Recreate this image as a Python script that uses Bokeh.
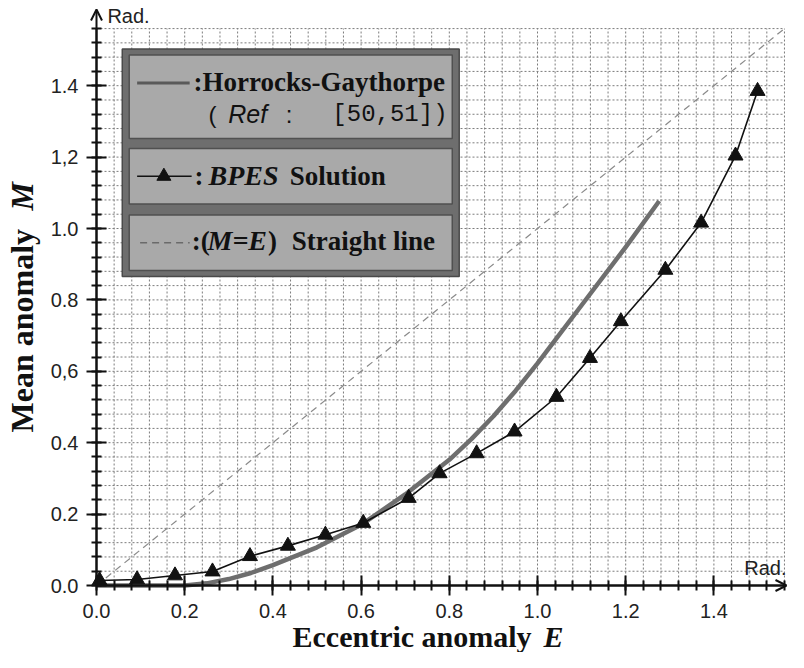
import numpy as np
from bokeh.plotting import figure
from bokeh.models import FixedTicker, Label, Arrow, OpenHead
from bokeh.embed import file_html
from bokeh.resources import INLINE

# ---------------- data ----------------
x_ticks = [0.0, 0.2, 0.4, 0.6, 0.8, 1.0, 1.2, 1.4]
x_tick_labels = ["0.0", "0.2", "0.4", "0.6", "0.8", "1.0", "1.2", "1.4"]
y_ticks = [0.0, 0.2, 0.4, 0.6, 0.8, 1.0, 1.2, 1.4]
y_tick_labels = ["0.0", "0.2", "0.4", "0,6", "0.8", "1.0", "1,2", "1.4"]

# Horrocks-Gaythorpe curve
hg_E = [0.0, 0.20, 0.25, 0.30, 0.35, 0.40, 0.50, 0.60, 0.70, 0.80, 0.85, 0.90, 0.95, 1.00, 1.10, 1.20, 1.276]
hg_M = [0.0, 0.0, 0.006, 0.018, 0.035, 0.057, 0.107, 0.170, 0.255, 0.352, 0.410, 0.474, 0.545, 0.622, 0.785, 0.948, 1.077]

# BPES solution (triangles)
bpes_E = [0.007, 0.092, 0.178, 0.263, 0.348, 0.434, 0.519, 0.605, 0.708, 0.778, 0.862, 0.948,
          1.043, 1.119, 1.189, 1.290, 1.371, 1.449, 1.499]
bpes_M = [0.014, 0.017, 0.028, 0.039, 0.082, 0.111, 0.142, 0.175, 0.245, 0.314, 0.370, 0.431,
          0.528, 0.637, 0.740, 0.884, 1.016, 1.204, 1.385]

# straight line M = E
diag_E = [0.0, 1.56]
diag_M = [0.0, 1.56]

# ---------------- layout ----------------
W, H = 788, 652
X0, Y0 = 96, 585             # figure pixel of the origin
PXX, PXY = 441.0, 357.0      # pixels per unit
GRID_MAX = 1.56
BASE_SHIFT = 0.3             # em; compensates where the label baseline is drawn


def fx(px):  # figure pixel -> data x
    return (px - X0) / PXX


def fy(py):  # figure pixel -> data y
    return (Y0 - py) / PXY


def rx(px):  # reference-image pixel -> data x
    return (px - 99) / 445.0


def ry(py):  # reference-image pixel -> data y
    return (592 - py) / 359.4


p = figure(width=W, height=H, x_range=(fx(0), fx(W)), y_range=(fy(H), fy(0)),
           output_backend="svg", toolbar_location=None, title=None, min_border=0)
p.outline_line_color = None
p.background_fill_color = "white"
p.border_fill_color = "white"
p.xgrid.visible = False
p.ygrid.visible = False

# dotted grid
g = np.round(np.arange(0, GRID_MAX + 1e-6, 0.04), 4)
p.segment(x0=g, y0=0, x1=g, y1=GRID_MAX, line_color="#7c7c7c", line_width=1, line_dash="2 2")
p.segment(x0=0, y0=g, x1=GRID_MAX, y1=g, line_color="#7c7c7c", line_width=1, line_dash="2 2")

# axes through the origin
minor = g.tolist()
for ax, ticks, labels in ((p.xaxis[0], x_ticks, x_tick_labels), (p.yaxis[0], y_ticks, y_tick_labels)):
    ax.fixed_location = 0
    ax.ticker = FixedTicker(ticks=ticks, minor_ticks=minor)
    ax.major_label_overrides = {t: l for t, l in zip(ticks, labels)}
    ax.bounds = (0, GRID_MAX)
    ax.axis_line_width = 2
    ax.axis_line_color = "#111111"
    ax.major_tick_in = 10
    ax.major_tick_out = 10
    ax.major_tick_line_width = 2
    ax.major_tick_line_color = "#111111"
    ax.minor_tick_in = 5
    ax.minor_tick_out = 5
    ax.minor_tick_line_width = 2
    ax.minor_tick_line_color = "#111111"
    ax.major_label_text_font = "Liberation Sans"
    ax.major_label_text_font_size = "20px"
    ax.major_label_text_color = "#222222"
    ax.major_label_standoff = 8

p.add_layout(Arrow(end=OpenHead(size=11, line_width=2, line_color="#111111"),
                   x_start=0, y_start=0, x_end=fx(786), y_end=0, line_width=2, line_color="#111111"))
p.add_layout(Arrow(end=OpenHead(size=11, line_width=2, line_color="#111111"),
                   x_start=0, y_start=0, x_end=0, y_end=fy(9), line_width=2, line_color="#111111"))

# series
p.line(diag_E, diag_M, line_color="#8a8a8a", line_width=1.2, line_dash="7 5")
p.line(hg_E, hg_M, line_color="#6e6e6e", line_width=4.5, line_join="round")
p.line(bpes_E, bpes_M, line_color="#111111", line_width=1.6)
p.scatter(bpes_E, bpes_M, marker="triangle", size=15, fill_color="#111111", line_color="#111111")

# legend box (positions)
p.quad(left=rx(125), right=rx(465), top=ry(52), bottom=ry(281),
       fill_color="#6e6e6e", line_color="#4a4a4a", line_width=1.5)
p.quad(left=[rx(132)] * 3, right=[rx(458)] * 3,
       top=[ry(58), ry(152), ry(219)], bottom=[ry(142), ry(208), ry(275)],
       fill_color="#a9a9a9", line_color="#505050", line_width=1.5)
p.line([rx(140), rx(193)], [ry(86), ry(86)], line_color="#5a5a5a", line_width=3)
p.line([rx(140), rx(195)], [ry(180), ry(180)], line_color="#111111", line_width=1.6)
p.scatter([rx(167)], [ry(180)], marker="triangle", size=14, fill_color="#111111", line_color="#111111")
p.line([rx(143), rx(193)], [ry(247), ry(247)], line_color="#6a6a6a", line_width=1.5, line_dash="7 5")

SERIF, SANS, MONO = "Liberation Serif", "Liberation Sans", "Liberation Mono"


def lab(x, y, text, font=SERIF, style="bold", size=27, color="#111111", align="left", angle=0.0):
    """x, y in data units at the wanted baseline; shifted to where Bokeh draws it."""
    shift = BASE_SHIFT * size
    if angle:
        x = x - shift / PXX
    else:
        y = y + shift / PXY
    p.add_layout(Label(x=x, y=y, text=text, text_font=font,
                       text_font_style=style, text_font_size=f"{size}px", text_color=color,
                       text_align=align, text_baseline="alphabetic", angle=angle))


lab(rx(197), ry(93), ":Horrocks-Gaythorpe")
lab(rx(212), ry(125), "(", SANS, "normal", 24)
lab(rx(232), ry(125), "Ref", SANS, "italic", 25)
lab(rx(290), ry(125), ":", SANS, "normal", 24)
lab(rx(337), ry(125), "[50,51])", MONO, "normal", 24)
lab(rx(198), ry(188), ":")
lab(rx(212), ry(188), "BPES", style="bold italic", size=28)
lab(rx(294), ry(188), "Solution")
lab(rx(195), ry(253), ":(")
lab(rx(211), ry(253), "M=E", style="bold italic", size=28)
lab(rx(272), ry(253), ")")
lab(rx(296), ry(253), "Straight line")

# Rad. labels
lab(rx(110), ry(25), "Rad.", SANS, "normal", 20, "#222222")
lab(fx(786), ry(580), "Rad.", SANS, "normal", 20, "#222222", align="right")

# axis titles
lab(fx(292), fy(645), "Eccentric anomaly", size=30)
lab(fx(543), fy(645), "E", style="bold italic", size=30)
lab(fx(31), fy(432), "Mean anomaly", size=32, angle=np.pi / 2)
lab(fx(31), fy(210), "M", style="bold italic", size=32, angle=np.pi / 2)

open("out.html", "w").write(file_html(p, INLINE))
